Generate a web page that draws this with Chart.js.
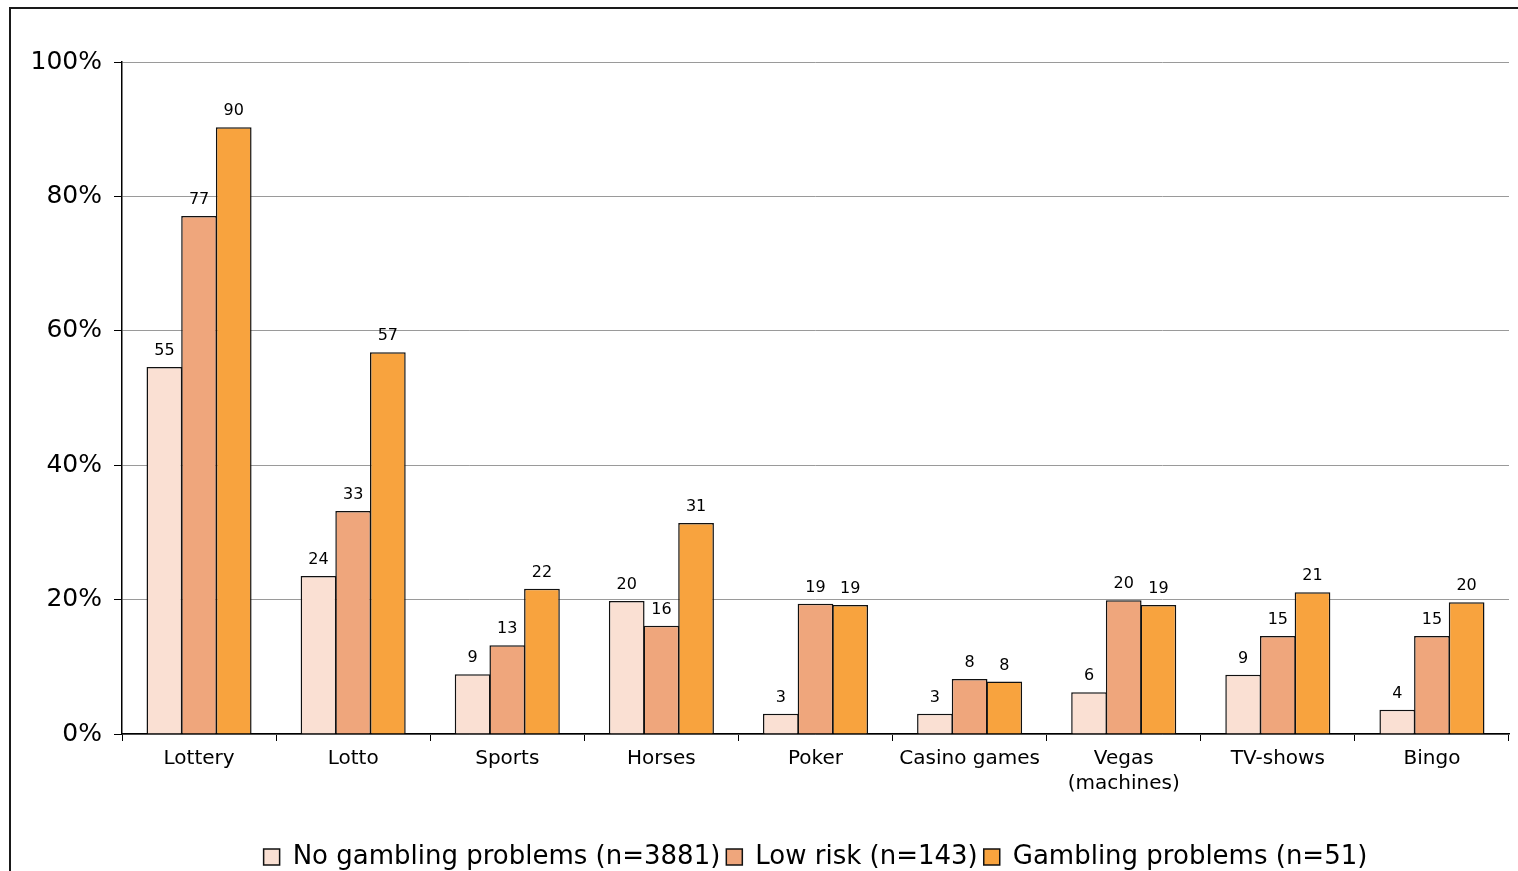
<!DOCTYPE html>
<html>
<head>
<meta charset="utf-8">
<script src="https://cdn.jsdelivr.net/npm/chart.js@4/dist/chart.umd.min.js"></script>
<style>
  html, body { margin: 0; padding: 0; background: #fff; }
  #wrap { width: 1518px; height: 871px; position: relative; }
</style>
</head>
<body>
<div id="wrap"><canvas id="c" width="1518" height="871"></canvas></div>
<script>
const categories = ['Lottery', 'Lotto', 'Sports', 'Horses', 'Poker', 'Casino games', ['Vegas', '(machines)'], 'TV-shows', 'Bingo'];
const seriesNames = ['No gambling problems (n=3881)', 'Low risk (n=143)', 'Gambling problems (n=51)'];
const noProblems = [54.6, 23.5, 8.9, 19.8, 3.0, 3.0, 6.2, 8.8, 3.6];
const lowRisk = [77.1, 33.2, 13.2, 16.1, 19.4, 8.2, 19.9, 14.6, 14.6];
const gamblingProblems = [90.3, 56.8, 21.6, 31.4, 19.2, 7.8, 19.2, 21.1, 19.6];
const yTicks = [0, 20, 40, 60, 80, 100];
const colors = ['#FAE0D3', '#EFA67C', '#F8A33E'];

const FONT = "'DejaVu Sans', Verdana, sans-serif";

const framePlugin = {
  id: 'frame',
  afterDraw(chart) {
    const ctx = chart.ctx;
    ctx.save();
    ctx.strokeStyle = '#1a1a1a';
    ctx.lineWidth = 2;
    ctx.beginPath();
    ctx.moveTo(10, 880);
    ctx.lineTo(10, 8);
    ctx.lineTo(1530, 8);
    ctx.stroke();
    ctx.restore();
  }
};

const labelPlugin = {
  id: 'barLabels',
  afterDatasetsDraw(chart) {
    const ctx = chart.ctx;
    ctx.save();
    ctx.font = '16px ' + FONT;
    ctx.fillStyle = '#000';
    ctx.textAlign = 'center';
    ctx.textBaseline = 'alphabetic';
    chart.data.datasets.forEach((ds, i) => {
      const meta = chart.getDatasetMeta(i);
      meta.data.forEach((bar, j) => {
        ctx.fillText(String(Math.round(ds.data[j])), bar.x, bar.y - 12);
      });
    });
    ctx.restore();
  }
};

new Chart(document.getElementById('c'), {
  type: 'bar',
  data: {
    labels: categories,
    datasets: [
      { label: seriesNames[0], data: noProblems, backgroundColor: colors[0] },
      { label: seriesNames[1], data: lowRisk, backgroundColor: colors[1] },
      { label: seriesNames[2], data: gamblingProblems, backgroundColor: colors[2] }
    ].map(d => Object.assign(d, { borderColor: '#111', borderWidth: 1.5, categoryPercentage: 0.675, barPercentage: 1.03 }))
  },
  options: {
    responsive: false,
    animation: false,
    devicePixelRatio: 1,
    layout: { padding: { left: 0, right: 9, top: 62, bottom: -9 } },
    plugins: {
      legend: {
        position: 'bottom',
        fullSize: false,
        labels: {
          font: { family: FONT, size: 26, lineHeight: 1 },
          color: '#000',
          boxWidth: 16,
          boxHeight: 16,
          padding: 6,
          generateLabels(chart) {
            return chart.data.datasets.map((ds, i) => ({
              text: ds.label, fillStyle: ds.backgroundColor, strokeStyle: '#111', lineWidth: 1.5, datasetIndex: i, hidden: false
            }));
          }
        }
      },
      tooltip: { enabled: false }
    },
    scales: {
      x: {
        afterFit(s) { s.height = 104; },
        grid: { offset: true, drawOnChartArea: false, drawTicks: true, tickLength: 7, tickColor: '#000', color: '#000' },
        border: { color: '#000', width: 1.5 },
        ticks: { color: '#000', font: { family: FONT, size: 20, lineHeight: 1.25 }, padding: 5, maxRotation: 0, autoSkip: false }
      },
      y: {
        min: 0, max: 100,
        afterFit(s) { s.width = 122; },
        afterBuildTicks(s) { s.ticks = yTicks.map(v => ({ value: v })); },
        grid: { color: '#9a9a9a', lineWidth: 1, tickLength: 8, tickColor: '#000', drawTicks: true },
        border: { color: '#000', width: 1.5 },
        ticks: { color: '#000', font: { family: FONT, size: 25 }, padding: 12, callback: v => v + '%' }
      }
    }
  },
  plugins: [framePlugin, labelPlugin]
});
</script>
</body>
</html>
